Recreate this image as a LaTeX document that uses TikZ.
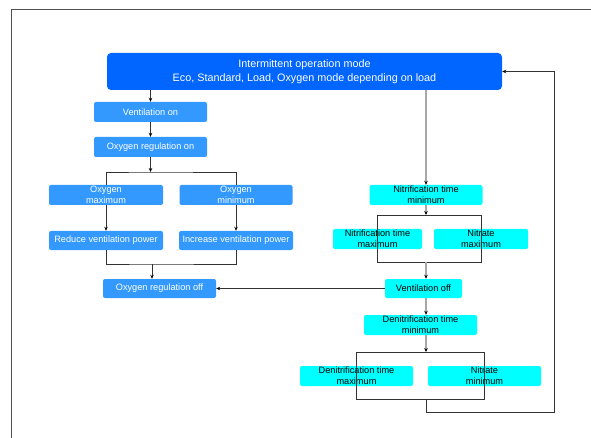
\documentclass[tikz,border=0pt]{standalone}
\usepackage{fontspec}
\setmainfont{Liberation Sans}
\usetikzlibrary{arrows.meta}
\definecolor{modeblue}{HTML}{0066FF}
\definecolor{stepblue}{HTML}{3399FF}
\definecolor{stepcyan}{HTML}{00FFFF}
\definecolor{linegray}{HTML}{A8A8A8}
\definecolor{framegray}{HTML}{505050}
\begin{document}
\begin{tikzpicture}[x=1pt,y=-1pt,
		box/.style={rounded corners=2pt,inner sep=0pt,minimum height=20pt,align=center,font=\fontsize{9.2}{11}\selectfont},
		bluebox/.style={box,fill=stepblue,text=white},
		cyanbox/.style={box,fill=stepcyan,text=black},
		arr/.style={-{Stealth[length=4pt,width=3.5pt,color=black]}},
		link/.style={draw=black!80,line width=0.8pt},
		graylink/.style={draw=linegray,line width=1.3pt}
	]
		\useasboundingbox (0,0) rectangle (591,438);
		
		% Draw frame.
		\draw[framegray,line width=1pt] (11,438) -- (11,10) -- (591,10);
		
		% Draw mode box.
		\node[box,fill=modeblue,text=white,rounded corners=4pt,minimum width=395pt,minimum height=37pt,font=\fontsize{10.8}{13.5}\selectfont] (mode) at (304.5,71.5)
			{Intermittent operation mode\\Eco, Standard, Load, Oxygen mode depending on load};
		
		% Draw ventilation branch.
		\node[bluebox,minimum width=113pt] (venton) at (150.5,112) {Ventilation on};
		\node[bluebox,minimum width=113pt] (regon) at (150.5,147) {Oxygen regulation on};
		\node[bluebox,minimum width=114pt] (oxmax) at (106,195) {Oxygen\\maximum};
		\node[bluebox,minimum width=113pt] (oxmin) at (236,195) {Oxygen\\minimum};
		\node[bluebox,minimum width=114pt,minimum height=19pt] (reduce) at (106,240.5) {Reduce ventilation power};
		\node[bluebox,minimum width=114pt,minimum height=19pt] (increase) at (236,240.5) {Increase ventilation power};
		\node[bluebox,minimum width=113pt,minimum height=19pt] (regoff) at (159.5,288.5) {Oxygen regulation off};
		
		\coordinate (oxsplit) at (150.5,172);
		\coordinate (oxjoin) at (152,264);
		\draw[link,arr] (mode.south -| venton) -- (venton.north);
		\draw[link,arr] (venton) -- (regon);
		\draw[link,arr] (regon) -- (oxsplit);
		\draw[link] (oxmax.north) |- (oxsplit) -| (oxmin.north);
		\draw[link,arr] (oxmax) -- (reduce);
		\draw[link,arr] (oxmin) -- (increase);
		\draw[link] (reduce.south) |- (oxjoin) -| (increase.south);
		\draw[link,arr] (oxjoin) -- (oxjoin |- regoff.north);
		
		% Draw nitrification branch.
		\node[cyanbox,minimum width=113pt] (nitmin) at (426,195) {Nitrification time\\minimum};
		\node[cyanbox,minimum width=89pt] (nitmax) at (377.5,239) {Nitrification time\\maximum};
		\node[cyanbox,minimum width=94pt] (nitratemax) at (481,239) {Nitrate\\maximum};
		\node[cyanbox,minimum width=77pt,minimum height=19pt] (ventoff) at (423.5,288.5) {Ventilation off};
		\node[cyanbox,minimum width=113pt] (denmin) at (420.5,325) {Denitrification time\\minimum};
		\node[cyanbox,minimum width=113pt] (denmax) at (356.5,376) {Denitrification time\\maximum};
		\node[cyanbox,minimum width=113pt] (nitratemin) at (484.5,376) {Nitrate\\minimum};
		
		\coordinate (nitsplit) at (426,215);
		\coordinate (nitjoin) at (426,262);
		\coordinate (densplit) at (426,352);
		\coordinate (denjoin) at (426,399);
		\coordinate (back) at (554,412);
		\draw[graylink,arr] (mode.south -| nitmin) -- (nitmin.north);
		\draw[graylink,arr] (nitmin) -- (nitsplit);
		\draw[link] (nitmax |- nitsplit) rectangle (nitratemax |- nitjoin);
		\draw[graylink,arr] (nitjoin) -- (ventoff.north -| nitjoin);
		\draw[graylink,arr] (ventoff.south -| nitjoin) -- (denmin.north -| nitjoin);
		\draw[graylink,arr] (denmin.south -| densplit) -- (densplit);
		\draw[link] (denmax |- densplit) rectangle (nitratemin |- denjoin);
		
		% Connect back to mode and to oxygen regulation.
		\draw[link,arr] (denjoin) |- (back) |- (mode.east);
		\draw[link,arr] (ventoff.west) -- (regoff.east);
	\end{tikzpicture}
\end{document}
